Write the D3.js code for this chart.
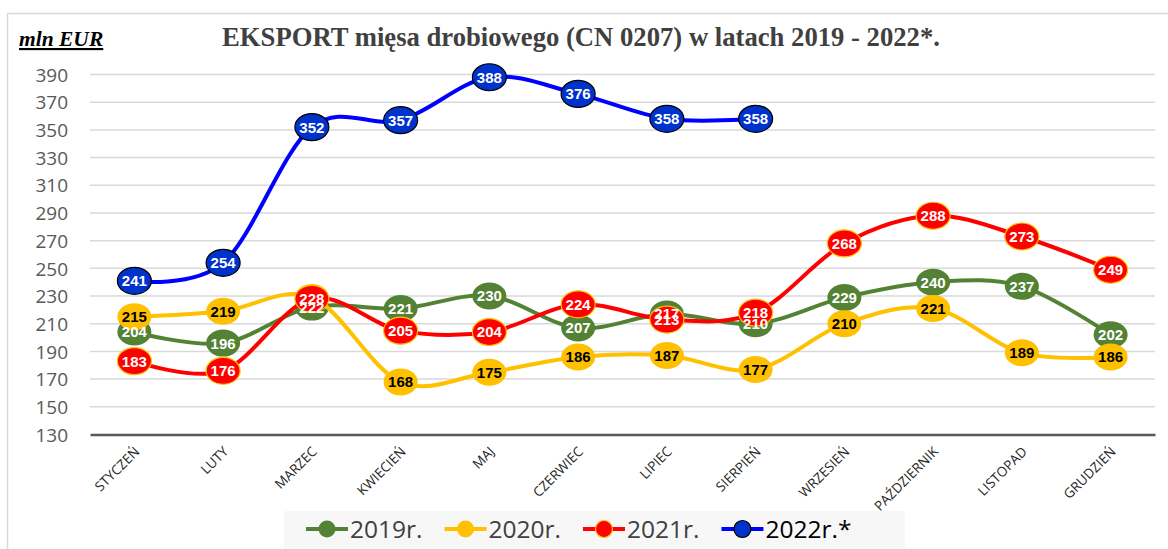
<!DOCTYPE html>
<html>
<head>
<meta charset="utf-8">
<script src="https://cdn.jsdelivr.net/npm/d3@7"></script>
<style>
  body { margin: 0; background: #fff; }
  svg { display: block; }
</style>
</head>
<body>
<svg id="chart" width="1168" height="549"></svg>
<script>
// ---------- DATA ----------
const months = ["STYCZEŃ","LUTY","MARZEC","KWIECIEŃ","MAJ","CZERWIEC","LIPIEC","SIERPIEŃ","WRZESIEŃ","PAŹDZIERNIK","LISTOPAD","GRUDZIEŃ"];
const seriesNames = ["2019r.","2020r.","2021r.","2022r.*"];
const values2019 = [204,196,222,221,230,207,217,210,229,240,237,202];
const values2020 = [215,219,229,168,175,186,187,177,210,221,189,186];
const values2021 = [183,176,228,205,204,224,213,218,268,288,273,249];
const values2022 = [241,254,352,357,388,376,358,358];
const yTicks = [130,150,170,190,210,230,250,270,290,310,330,350,370,390];
const hiddenLabels = [[1,2]]; // [series index, month index] label not shown (hidden under 2021 marker)
const titleText = "EKSPORT mięsa drobiowego (CN 0207) w latach 2019 - 2022*.";
const unitText = "mln EUR";

// ---------- STYLE ----------
const styles = [
  {line:"#548235", fill:"#548235", stroke:"none", text:"#ffffff"},
  {line:"#FFC000", fill:"#FFC000", stroke:"none", text:"#000000"},
  {line:"#FF0000", fill:"#FF0000", stroke:"#FFC000", text:"#ffffff"},
  {line:"#0000FF", fill:"#0033CC", stroke:"#000000", text:"#ffffff"}
];
const allValues = [values2019, values2020, values2021, values2022];

const svg = d3.select("#chart");
const W = 1168, H = 549;

// outer frame
svg.append("rect").attr("x",7.5).attr("y",13.5).attr("width",W+20).attr("height",H+20)
  .attr("fill","#fff").attr("stroke","#d9d9d9").attr("stroke-width",1.5);

const plot = {left:90, right:1155, top:74.5, bottom:434.5};

const x = d3.scaleBand().domain(months).range([plot.left, plot.right]);
const y = d3.scaleLinear().domain([130,390]).range([plot.bottom, plot.top]);
const cx = m => x(m) + x.bandwidth()/2;

// gridlines
svg.append("g").selectAll("line").data(yTicks.filter(t => t !== 130)).join("line")
  .attr("x1", plot.left).attr("x2", plot.right)
  .attr("y1", d => y(d)).attr("y2", d => y(d))
  .attr("stroke","#d9d9d9").attr("stroke-width",1.5);

// y axis labels
const yAxis = d3.axisLeft(y).tickValues(yTicks).tickSize(0).tickPadding(0);
const yg = svg.append("g").attr("transform","translate(68,0)").call(yAxis);
yg.select(".domain").remove();
yg.selectAll("text").attr("font-family","'Open Sans', sans-serif").attr("font-size",19)
  .attr("fill","#595959").attr("dy","0.35em");

// x axis
const xAxis = d3.axisBottom(x).tickSize(0).tickPadding(0);
const xg = svg.append("g").attr("transform",`translate(0,${plot.bottom})`).call(xAxis);
xg.select(".domain").attr("stroke","#595959").attr("stroke-width",2.5);
xg.selectAll("text")
  .attr("font-family","'Open Sans', sans-serif").attr("font-size",13.5)
  .attr("fill","#262626")
  .attr("text-anchor","end")
  .attr("dy","0")
  .attr("y",0)
  .attr("transform","translate(6,18) rotate(-45)");

// lines + markers
const line = d3.line().x((d,i) => cx(months[i])).y(d => y(d)).curve(d3.curveCardinal.tension(0));
allValues.forEach((vals, si) => {
  const st = styles[si];
  const g = svg.append("g");
  g.append("path").attr("d", line(vals)).attr("fill","none")
    .attr("stroke", st.line).attr("stroke-width",4).attr("stroke-linejoin","round");
  g.selectAll("ellipse").data(vals).join("ellipse")
    .attr("cx",(d,i) => cx(months[i])).attr("cy", d => y(d))
    .attr("rx",17).attr("ry",13.5)
    .attr("fill", st.fill).attr("stroke", st.stroke).attr("stroke-width",1.2);
});

// labels
allValues.forEach((vals, si) => {
  const st = styles[si];
  svg.append("g").selectAll("text")
    .data(vals.map((v,i) => ({v,i})).filter(d => !hiddenLabels.some(h => h[0]===si && h[1]===d.i)))
    .join("text")
    .attr("x", d => cx(months[d.i])).attr("y", d => y(d.v))
    .attr("dy","0.36em").attr("text-anchor","middle")
    .attr("font-family","'Liberation Sans', Arial, sans-serif").attr("font-weight","bold")
    .attr("font-size",15).attr("fill", st.text)
    .text(d => d.v);
});

// title
const title = svg.append("text").attr("x",581).attr("y",46).attr("text-anchor","middle")
  .attr("font-family","'Liberation Serif', 'Times New Roman', serif").attr("font-weight","bold")
  .attr("font-size",22).attr("fill","#404040").text(titleText);
const tw = title.node().getComputedTextLength();
title.attr("font-size", 22 * 718 / tw);

// unit label
svg.append("text").attr("x",19).attr("y",46)
  .attr("font-family","'Liberation Serif', 'Times New Roman', serif").attr("font-weight","bold")
  .attr("font-style","italic").attr("font-size",21.5).attr("fill","#000")
  .attr("text-decoration","underline").text(unitText);

// legend
const lg = svg.append("g");
lg.append("rect").attr("x",284).attr("y",511).attr("width",621).attr("height",50).attr("fill","#f7f7f7");
let gx = 306;
seriesNames.forEach((name, si) => {
  const st = styles[si];
  const gy = 529;
  lg.append("line").attr("x1",gx).attr("x2",gx+42).attr("y1",gy).attr("y2",gy)
    .attr("stroke", st.line).attr("stroke-width",4);
  lg.append("circle").attr("cx",gx+21).attr("cy",gy).attr("r",8.5)
    .attr("fill", st.fill).attr("stroke", st.stroke).attr("stroke-width",1.2);
  const t = lg.append("text").attr("x",gx+44).attr("y",gy).attr("dy","0.36em")
    .attr("font-family","'Open Sans', sans-serif").attr("font-size",24.5)
    .attr("fill", si === 3 ? "#000" : "#404040").text(name);
  gx += 44 + t.node().getComputedTextLength() + 22;
});
</script>
</body>
</html>
